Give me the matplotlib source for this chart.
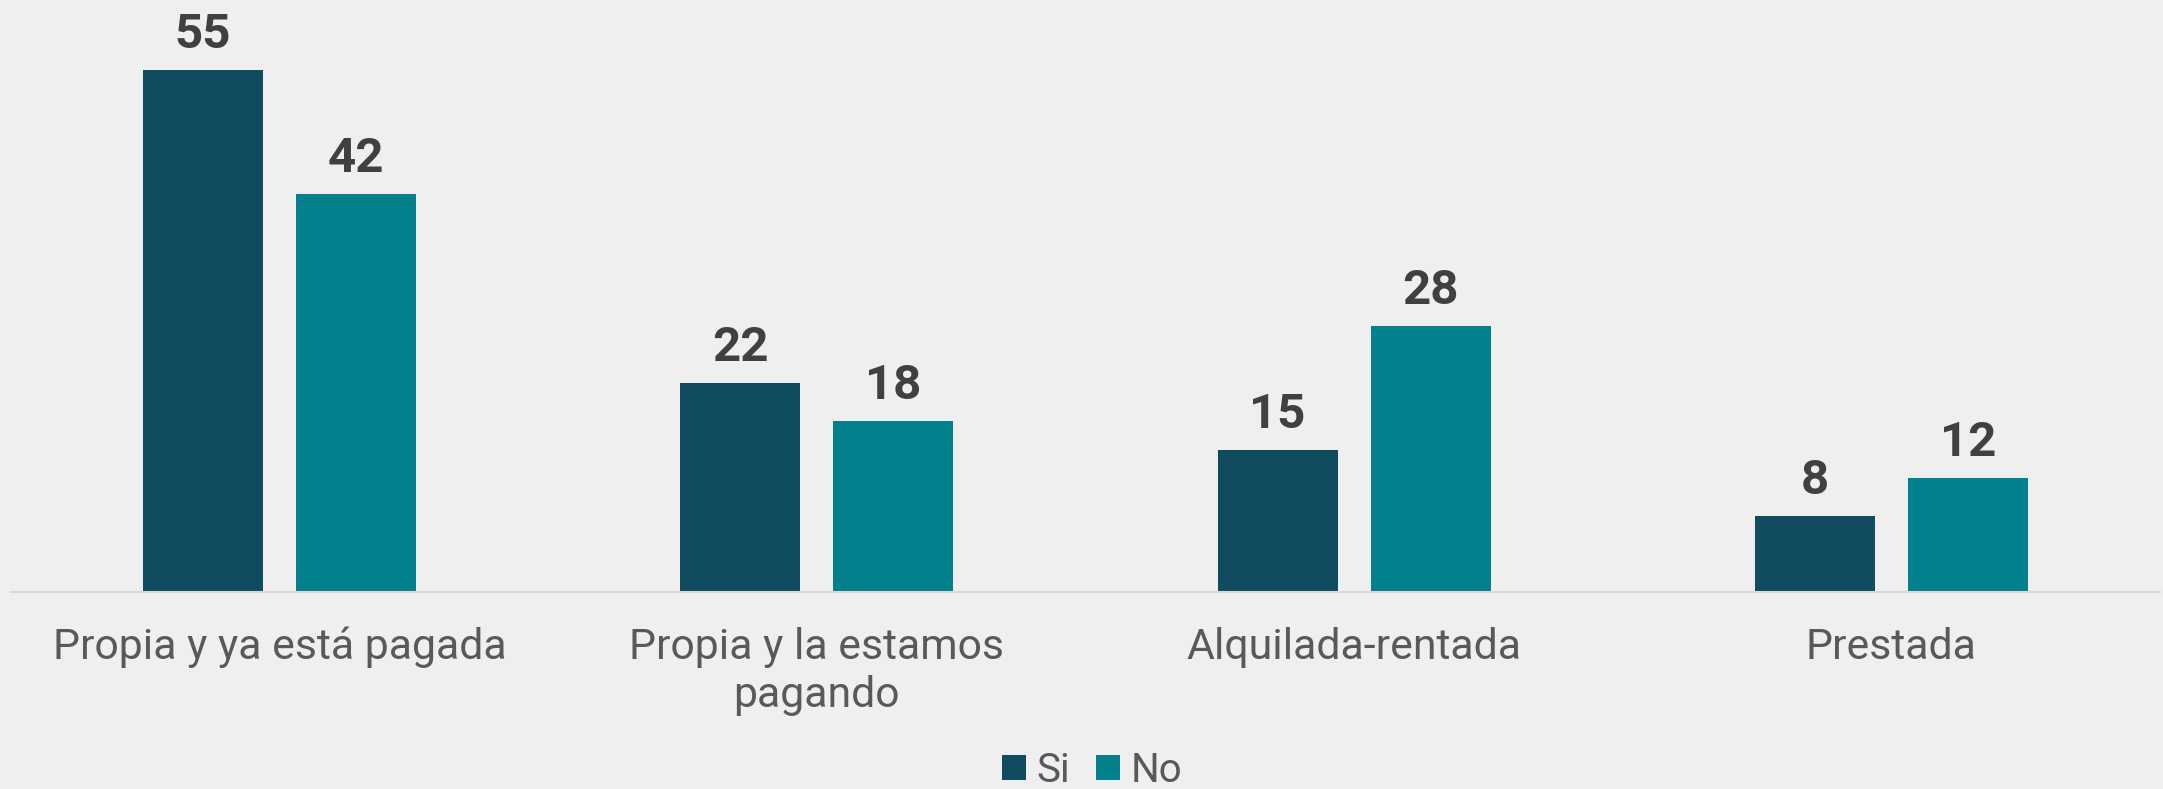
import matplotlib.pyplot as plt
import numpy as np

categorias = ["Propia y ya está pagada", "Propia y la estamos\npagando", "Alquilada-rentada", "Prestada"]
si = [55, 22, 15, 8]
no = [42, 18, 28, 12]

plt.rcParams['font.family'] = ['Roboto', 'DejaVu Sans']
bg = '#EFEFEF'

fig = plt.figure(figsize=(21.63, 7.89), dpi=100, facecolor=bg)
ax = fig.add_axes([11 / 2163, 197 / 789, 2149 / 2163, 592 / 789], facecolor=bg)

x = np.arange(len(categorias))
w = 0.2236
off = 0.1425
b1 = ax.bar(x - off, si, w, color='#114B5F', label='Si')
b2 = ax.bar(x + off, no, w, color='#02808C', label='No')

for bars in (b1, b2):
    for r in bars:
        ax.annotate(f"{r.get_height():.0f}", (r.get_x() + r.get_width() / 2, r.get_height()),
                    xytext=(0, 8.6), textcoords='offset points', ha='center', va='bottom',
                    fontsize=35.5, fontweight='bold', color='#404040')

ax.set_xlim(-0.5, 3.5)
ax.set_ylim(0, 62.4)
ax.set_xticks(x)
ax.set_xticklabels(categorias, fontsize=30.8, color='#595959', linespacing=1.22)
ax.tick_params(axis='x', length=0, pad=25)
ax.set_yticks([])
for s in ['top', 'right', 'left']:
    ax.spines[s].set_visible(False)
ax.spines['bottom'].set_color('#D9D9D9')
ax.spines['bottom'].set_linewidth(1.5)

fig.legend(handles=[b1, b2], loc='lower center', bbox_to_anchor=(0.505, -0.027), ncol=2,
           frameon=False, fontsize=29, labelcolor='#595959', handlelength=0.58, handleheight=0.58,
           handletextpad=0.27, columnspacing=0.65, borderpad=0)

fig.savefig('out.png', dpi=100, facecolor=bg)
